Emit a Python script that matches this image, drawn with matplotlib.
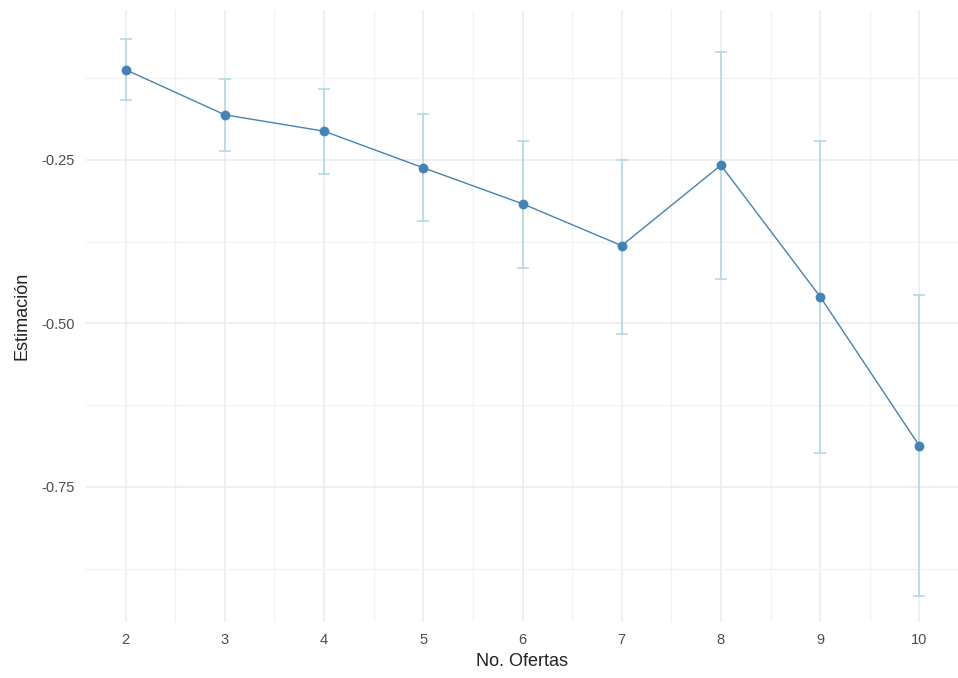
import matplotlib
matplotlib.use("Agg")
import matplotlib.pyplot as plt
from matplotlib.ticker import MultipleLocator

plt.rcParams['font.family'] = ['Liberation Sans', 'DejaVu Sans']

ofertas = [2, 3, 4, 5, 6, 7, 8, 9, 10]
estimacion = [-0.112, -0.181, -0.206, -0.262, -0.317, -0.381, -0.258, -0.459, -0.687]
ci_upper = [-0.065, -0.126, -0.141, -0.180, -0.221, -0.250, -0.085, -0.221, -0.456]
ci_lower = [-0.158, -0.236, -0.271, -0.343, -0.415, -0.516, -0.432, -0.698, -0.917]

err_low = [e - lo for e, lo in zip(estimacion, ci_lower)]
err_high = [hi - e for e, hi in zip(estimacion, ci_upper)]

fig = plt.figure(figsize=(9.58, 6.78), dpi=100)
ax = fig.add_axes([86 / 958, 1 - 622 / 678, 873 / 958, 612 / 678])

ax.errorbar(ofertas, estimacion, yerr=[err_low, err_high], fmt='none',
            ecolor='#ADD8E6', elinewidth=1.1, capsize=4.5, capthick=1.1, zorder=2)
ax.plot(ofertas, estimacion, color='#4682B4', linewidth=1.0, zorder=3)
ax.scatter(ofertas, estimacion, color='#4682B4', s=50, zorder=4, linewidths=0)

ax.set_xlim(1.6, 10.4)
ax.set_ylim(-0.9565, -0.0207)
ax.set_xticks(ofertas)
ax.xaxis.set_minor_locator(MultipleLocator(0.5))
ax.set_yticks([-0.25, -0.5, -0.75])
ax.set_yticklabels(['-0.25', '-0.50', '-0.75'])
ax.yaxis.set_minor_locator(MultipleLocator(0.125))

ax.grid(True, which='major', color='#EBEBEB', linewidth=1.1)
ax.grid(True, which='minor', color='#F2F2F2', linewidth=0.9)
ax.set_axisbelow(True)
for s in ax.spines.values():
    s.set_visible(False)
ax.tick_params(which='both', length=0, colors='#4D4D4D', labelsize=10.5)
ax.tick_params(axis='x', pad=8)
ax.tick_params(axis='y', pad=8)

ax.set_xlabel('No. Ofertas', fontsize=13, labelpad=4, color='#222222')
ax.set_ylabel('Estimación', fontsize=13, labelpad=8, color='#222222')

fig.savefig('out.png', dpi=100)
